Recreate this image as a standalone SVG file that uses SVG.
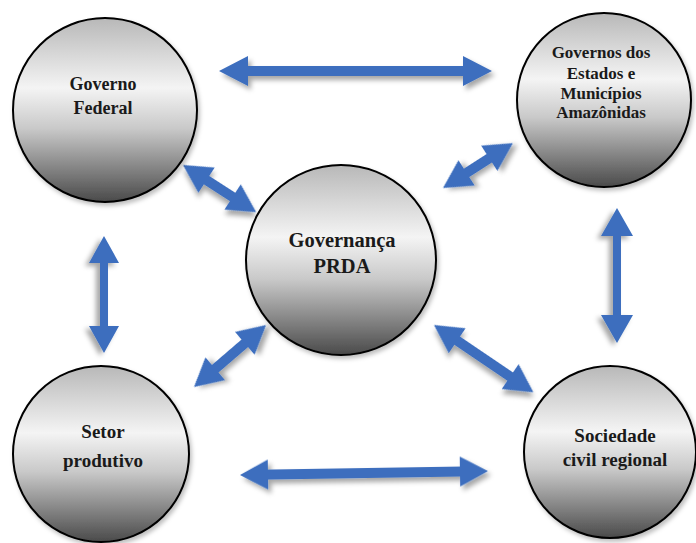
<svg xmlns="http://www.w3.org/2000/svg" width="696" height="543" viewBox="0 0 696 543">
  <defs>
    <linearGradient id="ballGrad" x1="0" y1="0" x2="0" y2="1">
      <stop offset="0" stop-color="#b8b8b8"/>
      <stop offset="0.38" stop-color="#f4f4f4"/>
      <stop offset="0.6" stop-color="#c9c9c9"/>
      <stop offset="1" stop-color="#4a4a4a"/>
    </linearGradient>
    <filter id="shadow" x="-20%" y="-20%" width="150%" height="160%">
      <feDropShadow dx="3" dy="4" stdDeviation="2.5" flood-color="#000" flood-opacity="0.35"/>
    </filter>
    <filter id="ballShadow" x="-10%" y="-10%" width="130%" height="130%">
      <feDropShadow dx="2" dy="3" stdDeviation="2" flood-color="#000" flood-opacity="0.25"/>
    </filter>
  </defs>
  <style>
    .ball { fill: url(#ballGrad); stroke: #000; stroke-width: 2; filter: url(#ballShadow); }
    .lbl { font-family: 'Liberation Serif', 'Times New Roman', serif; font-weight: 700; fill: #1a1a1a; text-anchor: middle; }
    .arr { fill: #3c6ebe; filter: url(#shadow); }
  </style>
  <rect width="696" height="543" fill="#ffffff"/>

  <g id="connectors">
    <polygon class="arr" transform="translate(219,71)" points="0,0 29,-15 29,-5 244,-5 244,-15 273,0 244,15 244,5 29,5 29,15"/>
    <polygon class="arr" transform="translate(104,236) rotate(90)" points="0,0 27,-15 27,-4 90,-4 90,-15 117,0 90,15 90,4 27,4 27,15"/>
    <polygon class="arr" transform="translate(617,208) rotate(90)" points="0,0 28,-16 28,-4 107,-4 107,-16 135,0 107,16 107,4 28,4 28,16"/>
    <polygon class="arr" transform="translate(240,475) rotate(-0.9)" points="0,0 28,-15 28,-5 220,-5 220,-15 248,0 220,15 220,5 28,5 28,15"/>
    <polygon class="arr" transform="translate(183,165) rotate(32.8)" points="0,0 28,-15 28,-5 59,-5 59,-15 87,0 59,15 59,5 28,5 28,15"/>
    <polygon class="arr" transform="translate(443,188) rotate(-32.7)" points="0,0 28,-15 28,-5 55,-5 55,-15 83,0 55,15 55,5 28,5 28,15"/>
    <polygon class="arr" transform="translate(194,387) rotate(-40.7)" points="0,0 28,-15 28,-5 67,-5 67,-15 95,0 67,15 67,5 28,5 28,15"/>
    <polygon class="arr" transform="translate(434,325) rotate(34.1)" points="0,0 28,-15 28,-5 92,-5 92,-15 120,0 92,15 92,5 28,5 28,15"/>
  </g>

  <g id="governo-federal" font-family="Liberation Serif, serif">
    <circle class="ball" cx="105" cy="110" r="92"/>
    <text class="lbl" x="103" y="90" font-size="18">Governo</text>
    <text class="lbl" x="103" y="114" font-size="18">Federal</text>
  </g>

  <g id="governos-estados" font-family="Liberation Serif, serif">
    <circle class="ball" cx="604" cy="100" r="87"/>
    <text class="lbl" x="601" y="58" font-size="17">Governos dos</text>
    <text class="lbl" x="601" y="79" font-size="17">Estados e</text>
    <text class="lbl" x="601" y="99" font-size="17">Municípios</text>
    <text class="lbl" x="601" y="118" font-size="17">Amazônidas</text>
  </g>

  <g id="governanca-prda" font-family="Liberation Serif, serif">
    <circle class="ball" cx="341" cy="260" r="95"/>
    <text class="lbl" x="342" y="247" font-size="20.5">Governança</text>
    <text class="lbl" x="342" y="273" font-size="20.5">PRDA</text>
  </g>

  <g id="setor-produtivo" font-family="Liberation Serif, serif">
    <circle class="ball" cx="101" cy="454" r="88"/>
    <text class="lbl" x="103" y="438" font-size="19">Setor</text>
    <text class="lbl" x="103" y="467" font-size="19">produtivo</text>
  </g>

  <g id="sociedade-civil" font-family="Liberation Serif, serif">
    <circle class="ball" cx="610" cy="452" r="86"/>
    <text class="lbl" x="615" y="442" font-size="19">Sociedade</text>
    <text class="lbl" x="615" y="466" font-size="19">civil regional</text>
  </g>
</svg>
